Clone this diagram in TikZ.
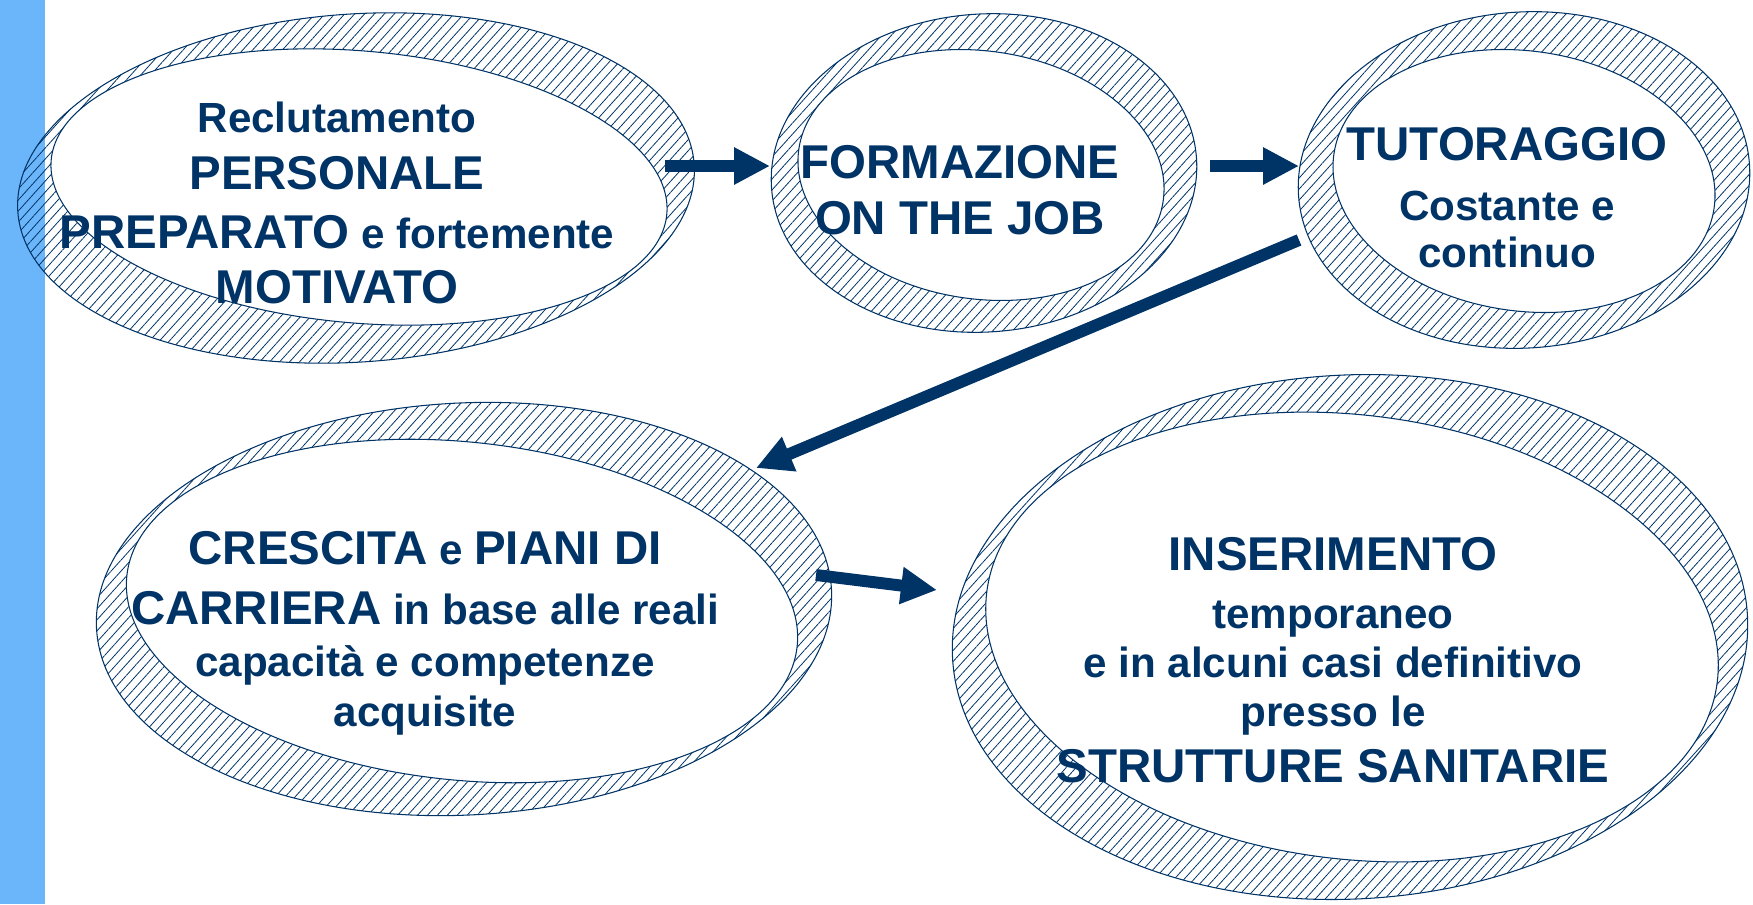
\documentclass[tikz,border=0pt]{standalone}
\usepackage{fontspec}
\setmainfont{Liberation Sans}
\usetikzlibrary{arrows.meta,patterns.meta}
\definecolor{navy}{RGB}{0,51,102}
\definecolor{stripblue}{RGB}{107,182,250}
\newcommand{\lgfont}{\fontsize{27}{32}\selectfont\bfseries}
\newcommand{\smfont}{\fontsize{24}{28}\selectfont\bfseries}

\begin{document}
\begin{tikzpicture}[x=0.02cm,y=-0.02cm]
\tikzset{hatch/.style={draw=navy,line width=0.6pt,pattern={Lines[angle=48,distance=4.2pt,line width=0.45pt]},pattern color=navy},
  hole/.style={draw=navy,line width=0.6pt,fill=white},
  label/.style={text=navy,font=\smfont,align=center,inner sep=0pt},
  flow/.style={navy,line width=6.8pt,-{Triangle[length=0.72cm,width=0.70cm]}}}
\useasboundingbox (0,0) rectangle (1753,904);
\fill [stripblue] (0,0) rectangle (45,904);
\draw [hatch,rotate around={4:(356,188)}] (356,188) ellipse (339 and 174);
\draw [hole,rotate around={-5:(359,187)}] (359,187) ellipse (309 and 136);
\draw [hatch,rotate around={4:(984,173)}] (984,173) ellipse (213 and 159);
\draw [hole,rotate around={-8:(981,175)}] (981,175) ellipse (184 and 124);
\draw [hatch,rotate around={4:(1524,180)}] (1524,180) ellipse (226 and 168);
\draw [hole,rotate around={-8:(1524,181)}] (1524,181) ellipse (192 and 130);
\draw [hatch,rotate around={3:(464,609)}] (464,609) ellipse (368 and 206);
\draw [hole,rotate around={-6:(462,611)}] (462,611) ellipse (337 and 169);
\draw [hatch,rotate around={3:(1350,637)}] (1350,637) ellipse (398 and 262);
\draw [hole,rotate around={-7:(1352,637)}] (1352,637) ellipse (368 and 222);
\node [label] (rec) at (337,203) {Reclutamento\\[4pt]{\lgfont PERSONALE}\\[6pt]{\lgfont PREPARATO} e fortemente\\[3pt]{\lgfont MOTIVATO}};
\node [label,font=\lgfont] (form) at (960,190) {FORMAZIONE\\ON THE JOB};
\node [label] (tut) at (1507,198) {{\lgfont TUTORAGGIO}\\[6pt]Costante e\\[-1pt]continuo};
\node [label] (cresc) at (425,633) {{\lgfont CRESCITA} e {\lgfont PIANI DI}\\[6pt]{\lgfont CARRIERA} in base alle reali\\[2pt]capacità e competenze\\acquisite};
\node [label] (ins) at (1333,660) {{\lgfont INSERIMENTO}\\[5pt]temporaneo\\e in alcuni casi definitivo\\presso le\\[4pt]{\lgfont STRUTTURE SANITARIE}};
\coordinate (rec-out) at (665,166);
\coordinate (form-in) at (770,166);
\coordinate (form-out) at (1210,166);
\coordinate (tut-in) at (1299,166);
\coordinate (tut-out) at (1299,240);
\coordinate (cresc-in) at (756,468);
\coordinate (cresc-out) at (816,575);
\coordinate (ins-in) at (937,590);
\draw [flow] (rec-out) -- (form-in);
\draw [flow] (form-out) -- (tut-in);
\draw [flow] (tut-out) -- (cresc-in);
\draw [flow] (cresc-out) -- (ins-in);
\end{tikzpicture}
\end{document}
